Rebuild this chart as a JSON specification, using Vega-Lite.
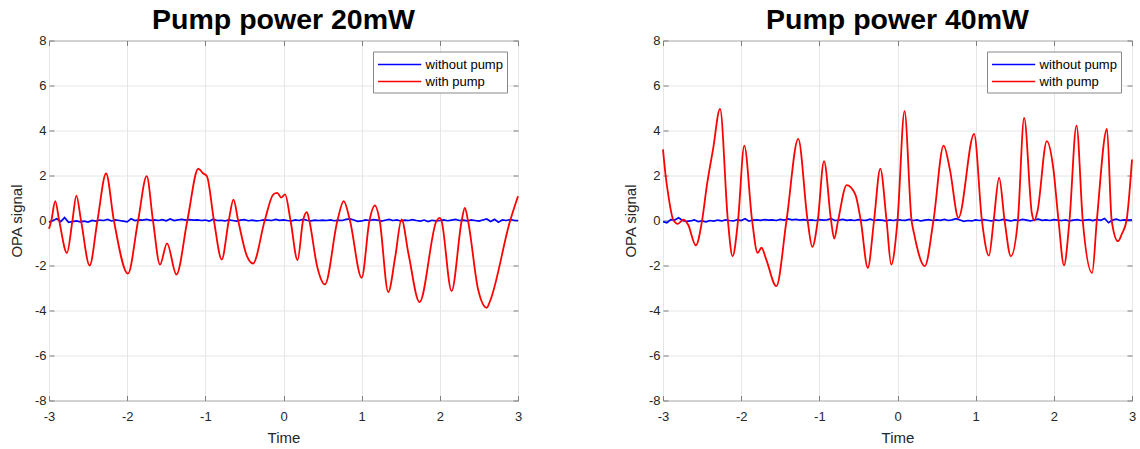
{
  "$schema": "https://vega.github.io/schema/vega-lite/v6.json",
  "padding": {"left": 8, "top": 5.5, "right": 5, "bottom": 5},
  "bounds": "flush",
  "spacing": 145,
  "config": {
    "font": "Liberation Sans",
    "view": {"stroke": "#7f7f7f", "strokeWidth": 1},
    "axis": {
      "labelFont": "Liberation Sans", "titleFont": "Liberation Sans",
      "labelFontSize": 13, "titleFontSize": 15, "titleFontWeight": "normal",
      "labelColor": "#262626", "titleColor": "#262626",
      "domain": false, "tickColor": "#7f7f7f", "tickSize": -5,
      "gridColor": "#e6e6e6", "gridWidth": 1,
      "labelFlush": false, "labelOverlap": false,
      "labelExpr": "toString(datum.value)"
    },
    "legend": {
      "orient": "top-right", "title": null, "symbolType": "M-2.7,0H2.7", "symbolSize": 256, "symbolStrokeWidth": 1.5,
      "symbolOffset": 13.6, "labelOffset": 17,
      "labelFontSize": 13, "labelFont": "Liberation Sans", "labelColor": "black", "strokeColor": "#888888", "fillColor": "white",
      "padding": 4, "offset": 11, "rowPadding": 1
    }
  },
  "datasets": {
    "L_blue": [
      {"t":-3.00,"v":-0.08},{"t":-2.95,"v":0.0},{"t":-2.90,"v":0.08},{"t":-2.85,"v":-0.05},{"t":-2.80,"v":0.13},{"t":-2.75,"v":-0.08},{"t":-2.70,"v":-0.05},{"t":-2.65,"v":-0.02},{"t":-2.60,"v":-0.06},{"t":-2.55,"v":-0.03},{"t":-2.50,"v":-0.07},{"t":-2.45,"v":0.0},{"t":-2.40,"v":-0.03},{"t":-2.35,"v":0.02},{"t":-2.30,"v":0.0},{"t":-2.25,"v":0.05},{"t":-2.20,"v":-0.02},{"t":-2.15,"v":0.03},{"t":-2.10,"v":0.0},{"t":-2.05,"v":-0.03},{"t":-2.00,"v":-0.06},{"t":-1.95,"v":0.08},{"t":-1.90,"v":0.0},{"t":-1.85,"v":0.03},{"t":-1.80,"v":0.02},{"t":-1.75,"v":0.05},{"t":-1.70,"v":0.01},{"t":-1.65,"v":0.03},{"t":-1.60,"v":0.0},{"t":-1.55,"v":0.04},{"t":-1.50,"v":-0.01},{"t":-1.45,"v":0.07},{"t":-1.40,"v":0.0},{"t":-1.35,"v":0.03},{"t":-1.30,"v":0.05},{"t":-1.25,"v":0.02},{"t":-1.20,"v":0.04},{"t":-1.15,"v":0.02},{"t":-1.10,"v":0.03},{"t":-1.05,"v":0.0},{"t":-1.00,"v":0.02},{"t":-0.95,"v":-0.03},{"t":-0.90,"v":0.06},{"t":-0.85,"v":0.0},{"t":-0.80,"v":0.01},{"t":-0.75,"v":-0.02},{"t":-0.70,"v":0.03},{"t":-0.65,"v":0.0},{"t":-0.60,"v":-0.03},{"t":-0.55,"v":0.02},{"t":-0.50,"v":0.04},{"t":-0.45,"v":-0.01},{"t":-0.40,"v":0.02},{"t":-0.35,"v":-0.02},{"t":-0.30,"v":0.0},{"t":-0.25,"v":0.03},{"t":-0.20,"v":0.02},{"t":-0.15,"v":0.0},{"t":-0.10,"v":0.05},{"t":-0.05,"v":0.01},{"t":0.00,"v":0.03},{"t":0.05,"v":0.0},{"t":0.10,"v":-0.02},{"t":0.15,"v":0.03},{"t":0.20,"v":0.0},{"t":0.25,"v":0.05},{"t":0.30,"v":0.01},{"t":0.35,"v":-0.02},{"t":0.40,"v":0.02},{"t":0.45,"v":0.0},{"t":0.50,"v":0.02},{"t":0.55,"v":0.0},{"t":0.60,"v":0.03},{"t":0.65,"v":-0.01},{"t":0.70,"v":0.02},{"t":0.75,"v":0.0},{"t":0.80,"v":0.05},{"t":0.85,"v":0.07},{"t":0.90,"v":0.02},{"t":0.95,"v":-0.04},{"t":1.00,"v":-0.02},{"t":1.05,"v":0.03},{"t":1.10,"v":0.0},{"t":1.15,"v":0.04},{"t":1.20,"v":0.02},{"t":1.25,"v":-0.03},{"t":1.30,"v":0.01},{"t":1.35,"v":0.05},{"t":1.40,"v":0.0},{"t":1.45,"v":0.03},{"t":1.50,"v":-0.02},{"t":1.55,"v":0.02},{"t":1.60,"v":0.0},{"t":1.65,"v":0.04},{"t":1.70,"v":0.0},{"t":1.75,"v":-0.03},{"t":1.80,"v":0.02},{"t":1.85,"v":-0.05},{"t":1.90,"v":0.01},{"t":1.95,"v":-0.02},{"t":2.00,"v":0.0},{"t":2.05,"v":0.03},{"t":2.10,"v":-0.01},{"t":2.15,"v":0.02},{"t":2.20,"v":0.05},{"t":2.25,"v":0.0},{"t":2.30,"v":0.02},{"t":2.35,"v":-0.02},{"t":2.40,"v":0.03},{"t":2.45,"v":0.0},{"t":2.50,"v":-0.03},{"t":2.55,"v":0.02},{"t":2.60,"v":0.07},{"t":2.65,"v":-0.04},{"t":2.70,"v":0.05},{"t":2.75,"v":-0.08},{"t":2.80,"v":0.03},{"t":2.85,"v":0.0},{"t":2.90,"v":0.04},{"t":2.95,"v":0.01},{"t":3.00,"v":0.0}
    ],
    "L_red": [
      {"t":-3.00,"v":-0.37},{"t":-2.97,"v":0.0},{"t":-2.92,"v":0.86},{"t":-2.87,"v":0.0},{"t":-2.77,"v":-1.44},{"t":-2.70,"v":0.0},{"t":-2.65,"v":1.11},{"t":-2.59,"v":0.0},{"t":-2.48,"v":-2.0},{"t":-2.38,"v":0.0},{"t":-2.27,"v":2.09},{"t":-2.17,"v":0.0},{"t":-1.99,"v":-2.36},{"t":-1.86,"v":0.0},{"t":-1.75,"v":1.97},{"t":-1.67,"v":0.0},{"t":-1.58,"v":-1.96},{"t":-1.49,"v":-1.02},{"t":-1.37,"v":-2.4},{"t":-1.23,"v":0.0},{"t":-1.09,"v":2.3},{"t":-1.03,"v":2.1},{"t":-0.98,"v":1.97},{"t":-0.89,"v":0.0},{"t":-0.79,"v":-1.73},{"t":-0.70,"v":0.0},{"t":-0.64,"v":0.93},{"t":-0.58,"v":0.0},{"t":-0.47,"v":-1.56},{"t":-0.39,"v":-1.91},{"t":-0.24,"v":0.0},{"t":-0.13,"v":1.16},{"t":-0.08,"v":1.23},{"t":-0.03,"v":1.02},{"t":0.02,"v":1.16},{"t":0.09,"v":0.0},{"t":0.18,"v":-1.76},{"t":0.25,"v":0.0},{"t":0.30,"v":0.37},{"t":0.33,"v":0.0},{"t":0.43,"v":-2.03},{"t":0.53,"v":-2.84},{"t":0.69,"v":0.0},{"t":0.77,"v":0.86},{"t":0.85,"v":0.0},{"t":1.00,"v":-2.55},{"t":1.10,"v":0.0},{"t":1.17,"v":0.67},{"t":1.23,"v":0.0},{"t":1.34,"v":-3.18},{"t":1.43,"v":-1.6},{"t":1.51,"v":0.05},{"t":1.60,"v":-1.5},{"t":1.74,"v":-3.63},{"t":1.96,"v":0.0},{"t":2.00,"v":0.12},{"t":2.02,"v":0.0},{"t":2.15,"v":-3.14},{"t":2.28,"v":0.0},{"t":2.32,"v":0.56},{"t":2.36,"v":0.0},{"t":2.49,"v":-3.07},{"t":2.60,"v":-3.88},{"t":2.64,"v":-3.6},{"t":2.90,"v":0.0},{"t":3.00,"v":1.08}
    ],
    "R_blue": [
      {"t":-3.00,"v":-0.05},{"t":-2.95,"v":-0.1},{"t":-2.90,"v":0.04},{"t":-2.85,"v":0.02},{"t":-2.80,"v":0.12},{"t":-2.75,"v":0.0},{"t":-2.70,"v":-0.04},{"t":-2.65,"v":-0.02},{"t":-2.60,"v":0.03},{"t":-2.55,"v":-0.05},{"t":-2.50,"v":-0.02},{"t":-2.45,"v":-0.06},{"t":-2.40,"v":0.0},{"t":-2.35,"v":-0.03},{"t":-2.30,"v":0.02},{"t":-2.25,"v":-0.02},{"t":-2.20,"v":0.03},{"t":-2.15,"v":0.0},{"t":-2.10,"v":-0.02},{"t":-2.05,"v":0.04},{"t":-2.00,"v":0.0},{"t":-1.95,"v":0.08},{"t":-1.90,"v":-0.03},{"t":-1.85,"v":0.02},{"t":-1.80,"v":0.03},{"t":-1.75,"v":0.01},{"t":-1.70,"v":0.04},{"t":-1.65,"v":0.02},{"t":-1.60,"v":0.03},{"t":-1.55,"v":0.0},{"t":-1.50,"v":0.05},{"t":-1.45,"v":0.02},{"t":-1.40,"v":0.07},{"t":-1.35,"v":0.03},{"t":-1.30,"v":0.05},{"t":-1.25,"v":0.02},{"t":-1.20,"v":0.04},{"t":-1.15,"v":0.01},{"t":-1.10,"v":0.03},{"t":-1.05,"v":0.0},{"t":-1.00,"v":0.04},{"t":-0.95,"v":0.02},{"t":-0.90,"v":0.03},{"t":-0.85,"v":0.08},{"t":-0.80,"v":0.0},{"t":-0.75,"v":0.02},{"t":-0.70,"v":0.05},{"t":-0.65,"v":0.01},{"t":-0.60,"v":0.03},{"t":-0.55,"v":0.0},{"t":-0.50,"v":0.04},{"t":-0.45,"v":0.02},{"t":-0.40,"v":0.01},{"t":-0.35,"v":0.06},{"t":-0.30,"v":0.0},{"t":-0.25,"v":0.03},{"t":-0.20,"v":0.02},{"t":-0.15,"v":-0.02},{"t":-0.10,"v":0.03},{"t":-0.05,"v":0.0},{"t":0.00,"v":0.04},{"t":0.05,"v":0.02},{"t":0.10,"v":0.01},{"t":0.15,"v":0.05},{"t":0.20,"v":0.0},{"t":0.25,"v":0.03},{"t":0.30,"v":-0.02},{"t":0.35,"v":0.02},{"t":0.40,"v":0.04},{"t":0.45,"v":0.0},{"t":0.50,"v":0.03},{"t":0.55,"v":0.01},{"t":0.60,"v":0.05},{"t":0.65,"v":0.0},{"t":0.70,"v":0.03},{"t":0.75,"v":0.08},{"t":0.80,"v":0.02},{"t":0.85,"v":-0.04},{"t":0.90,"v":0.0},{"t":0.95,"v":-0.02},{"t":1.00,"v":0.03},{"t":1.05,"v":0.0},{"t":1.10,"v":0.04},{"t":1.15,"v":0.01},{"t":1.20,"v":-0.02},{"t":1.25,"v":0.03},{"t":1.30,"v":0.0},{"t":1.35,"v":0.05},{"t":1.40,"v":0.02},{"t":1.45,"v":-0.02},{"t":1.50,"v":0.03},{"t":1.55,"v":0.0},{"t":1.60,"v":0.05},{"t":1.65,"v":0.02},{"t":1.70,"v":-0.02},{"t":1.75,"v":0.03},{"t":1.80,"v":0.06},{"t":1.85,"v":0.01},{"t":1.90,"v":0.03},{"t":1.95,"v":0.0},{"t":2.00,"v":0.04},{"t":2.05,"v":0.02},{"t":2.10,"v":0.0},{"t":2.15,"v":0.03},{"t":2.20,"v":-0.02},{"t":2.25,"v":0.02},{"t":2.30,"v":0.04},{"t":2.35,"v":0.0},{"t":2.40,"v":0.02},{"t":2.45,"v":0.04},{"t":2.50,"v":0.0},{"t":2.55,"v":0.05},{"t":2.60,"v":0.01},{"t":2.65,"v":0.09},{"t":2.70,"v":-0.1},{"t":2.75,"v":0.02},{"t":2.80,"v":0.06},{"t":2.85,"v":0.0},{"t":2.90,"v":0.03},{"t":2.95,"v":0.02},{"t":3.00,"v":0.03}
    ],
    "R_red": [
      {"t":-3.00,"v":3.16},{"t":-2.97,"v":2.1},{"t":-2.93,"v":1.08},{"t":-2.87,"v":0.04},{"t":-2.81,"v":-0.15},{"t":-2.74,"v":0.04},{"t":-2.68,"v":-0.18},{"t":-2.58,"v":-1.1},{"t":-2.50,"v":0.0},{"t":-2.44,"v":1.53},{"t":-2.36,"v":3.16},{"t":-2.27,"v":4.96},{"t":-2.17,"v":0.0},{"t":-2.11,"v":-1.59},{"t":-2.04,"v":0.0},{"t":-1.96,"v":3.33},{"t":-1.86,"v":0.0},{"t":-1.79,"v":-1.44},{"t":-1.74,"v":-1.21},{"t":-1.68,"v":-1.73},{"t":-1.55,"v":-2.92},{"t":-1.42,"v":0.0},{"t":-1.27,"v":3.63},{"t":-1.15,"v":0.0},{"t":-1.09,"v":-1.17},{"t":-1.02,"v":0.0},{"t":-0.94,"v":2.64},{"t":-0.85,"v":0.0},{"t":-0.81,"v":-0.8},{"t":-0.76,"v":0.0},{"t":-0.65,"v":1.57},{"t":-0.54,"v":1.16},{"t":-0.47,"v":0.0},{"t":-0.38,"v":-2.1},{"t":-0.30,"v":0.0},{"t":-0.22,"v":2.31},{"t":-0.14,"v":0.0},{"t":-0.08,"v":-1.96},{"t":0.00,"v":0.0},{"t":0.09,"v":4.86},{"t":0.18,"v":0.0},{"t":0.21,"v":-0.55},{"t":0.35,"v":-2.03},{"t":0.46,"v":0.0},{"t":0.59,"v":3.33},{"t":0.67,"v":2.27},{"t":0.78,"v":0.12},{"t":0.98,"v":3.85},{"t":1.08,"v":0.0},{"t":1.17,"v":-1.56},{"t":1.23,"v":0.0},{"t":1.30,"v":1.9},{"t":1.37,"v":0.0},{"t":1.45,"v":-1.59},{"t":1.54,"v":0.0},{"t":1.62,"v":4.56},{"t":1.72,"v":0.3},{"t":1.75,"v":0.0},{"t":1.79,"v":0.4},{"t":1.91,"v":3.53},{"t":1.99,"v":2.41},{"t":2.06,"v":0.0},{"t":2.13,"v":-1.99},{"t":2.20,"v":0.0},{"t":2.29,"v":4.22},{"t":2.37,"v":0.0},{"t":2.49,"v":-2.33},{"t":2.55,"v":0.0},{"t":2.68,"v":4.07},{"t":2.74,"v":0.0},{"t":2.82,"v":-0.92},{"t":2.87,"v":-0.6},{"t":2.93,"v":0.0},{"t":3.00,"v":2.71}
    ]
  },
  "resolve": {"scale": {"color": "independent"}, "legend": {"color": "independent"}},
  "hconcat": [
    {
      "width": 469, "height": 360,
      "title": {"text": "Pump power 20mW", "fontSize": 28.5, "fontWeight": "bold", "font": "Liberation Sans", "color": "black", "offset": 0},
      "layer": [
        {
          "data": {"name": "L_blue"},
          "mark": {"type": "line", "strokeWidth": 1.7},
          "encoding": {
            "x": {"field": "t", "type": "quantitative", "scale": {"domain": [-3, 3], "nice": false},
                  "axis": {"orient": "bottom", "values": [-3,-2,-1,0,1,2,3], "title": "Time", "grid": true, "labelPadding": 15, "titlePadding": 7}},
            "y": {"field": "v", "type": "quantitative", "scale": {"domain": [-8, 8], "nice": false},
                  "axis": {"orient": "left", "values": [-8,-6,-4,-2,0,2,4,6,8], "title": "OPA signal", "grid": true, "labelPadding": 8, "titlePadding": 10}},
            "color": {"datum": "without pump", "type": "nominal",
                      "scale": {"domain": ["without pump", "with pump"], "range": ["#0000ff", "#ff0000"]}}
          }
        },
        {
          "data": {"name": "L_red"},
          "mark": {"type": "line", "strokeWidth": 1.8, "interpolate": "monotone"},
          "encoding": {
            "x": {"field": "t", "type": "quantitative", "axis": {"orient": "top", "values": [-3,-2,-1,0,1,2,3], "labels": false, "title": null, "grid": false}},
            "y": {"field": "v", "type": "quantitative", "axis": {"orient": "right", "values": [-8,-6,-4,-2,0,2,4,6,8], "labels": false, "title": null, "grid": false}},
            "color": {"datum": "with pump", "type": "nominal"}
          }
        }
      ],
      "resolve": {"axis": {"x": "independent", "y": "independent"}}
    },
    {
      "width": 469, "height": 360,
      "title": {"text": "Pump power 40mW", "fontSize": 28.5, "fontWeight": "bold", "font": "Liberation Sans", "color": "black", "offset": 0},
      "layer": [
        {
          "data": {"name": "R_blue"},
          "mark": {"type": "line", "strokeWidth": 1.7},
          "encoding": {
            "x": {"field": "t", "type": "quantitative", "scale": {"domain": [-3, 3], "nice": false},
                  "axis": {"orient": "bottom", "values": [-3,-2,-1,0,1,2,3], "title": "Time", "grid": true, "labelPadding": 15, "titlePadding": 7}},
            "y": {"field": "v", "type": "quantitative", "scale": {"domain": [-8, 8], "nice": false},
                  "axis": {"orient": "left", "values": [-8,-6,-4,-2,0,2,4,6,8], "title": "OPA signal", "grid": true, "labelPadding": 8, "titlePadding": 10}},
            "color": {"datum": "without pump", "type": "nominal",
                      "scale": {"domain": ["without pump", "with pump"], "range": ["#0000ff", "#ff0000"]}}
          }
        },
        {
          "data": {"name": "R_red"},
          "mark": {"type": "line", "strokeWidth": 1.8, "interpolate": "monotone"},
          "encoding": {
            "x": {"field": "t", "type": "quantitative", "axis": {"orient": "top", "values": [-3,-2,-1,0,1,2,3], "labels": false, "title": null, "grid": false}},
            "y": {"field": "v", "type": "quantitative", "axis": {"orient": "right", "values": [-8,-6,-4,-2,0,2,4,6,8], "labels": false, "title": null, "grid": false}},
            "color": {"datum": "with pump", "type": "nominal"}
          }
        }
      ],
      "resolve": {"axis": {"x": "independent", "y": "independent"}}
    }
  ]
}
